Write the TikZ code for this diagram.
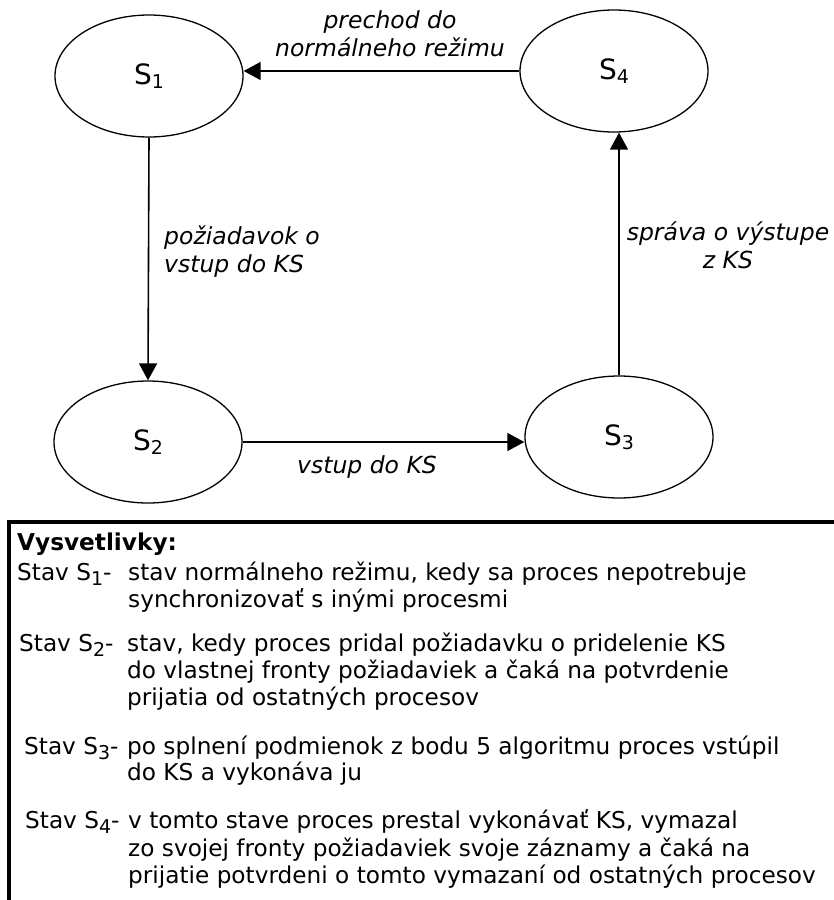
\documentclass[tikz,border=0pt]{standalone}
\usepackage{fontspec}
\setmainfont{DejaVu Sans}
\usetikzlibrary{arrows.meta,shapes.geometric}
% lowered index digit as used after "S": size, drop, digit
\newcommand\lowsub[3]{\raisebox{-#2}{\fontsize{#1}{#1}\selectfont #3}}
\begin{document}
\begin{tikzpicture}[x=1pt,y=-1pt,
  state/.style={draw,line width=1.3pt,ellipse,minimum width=188pt,minimum height=122pt,inner sep=0pt,
    font=\fontsize{28}{32}\selectfont},
  trans/.style={line width=1.6pt,-{Triangle[length=17pt,width=18pt]}},
  elabel/.style={font=\fontsize{23.5}{28}\selectfont\itshape,align=center,inner sep=0pt},
  legend/.style={font=\fontsize{23.2}{27}\selectfont,anchor=base west,inner sep=0pt},
  legendbox/.style={line width=4pt}]
\useasboundingbox (0,0) rectangle (834,900);

% states
\node[state] (s1) at (149,76) {S\lowsub{19}{3.5pt}{1}};
\node[state] (s4) at (614,71) {S\lowsub{19}{3.5pt}{4}};
\node[state] (s2) at (148,442) {S\lowsub{19}{3.5pt}{2}};
\node[state] (s3) at (619,437) {S\lowsub{19}{3.5pt}{3}};

% transitions
\draw[trans] (s1.south) -- (s2.north);
\draw[trans] (s2.east) -- (s2.east -| s3.west);
\draw[trans] (s3.north) -- (s4.south -| s3.north);
\draw[trans] (s4.west) -- (s4.west -| s1.east);

% transition labels
\node[elabel] (l41) at (390,34) {prechod do\\normálneho režimu};
\node[elabel,align=left,anchor=west] (l12) at (164,252) {požiadavok o\\vstup do KS};
\node[elabel] (l34) at (728,245) {správa o výstupe\\z KS};
\node[elabel] (l23) at (367,467) {vstup do KS};

% legend frame
\coordinate (fbl) at (9,900);
\coordinate (ftl) at (9,522);
\coordinate (ftr) at (834,522);
\draw[legendbox] (fbl) -- (ftl) -- (ftr);

% legend text
\node[legend] (lh) at (17,550) {\bfseries Vysvetlivky:};
\node[legend] (k1) at (17,580) {Stav S\lowsub{19}{5.5pt}{1}-};
\node[legend] (t1a) at (128,580) {stav normálneho režimu, kedy sa proces nepotrebuje};
\node[legend] (t1b) at (128,607) {synchronizovať s inými procesmi};
\node[legend] (k2) at (19,651) {Stav S\lowsub{19}{5.5pt}{2}-};
\node[legend] (t2a) at (127,651) {stav, kedy proces pridal požiadavku o pridelenie KS};
\node[legend] (t2b) at (127,678) {do vlastnej fronty požiadaviek a čaká na potvrdenie};
\node[legend] (t2c) at (127,705) {prijatia od ostatných procesov};
\node[legend] (k3) at (24,754) {Stav S\lowsub{19}{5.5pt}{3}-};
\node[legend] (t3a) at (127,754) {po splnení podmienok z bodu 5 algoritmu proces vstúpil};
\node[legend] (t3b) at (127,780) {do KS a vykonáva ju};
\node[legend] (k4) at (25,828) {Stav S\lowsub{19}{5.5pt}{4}-};
\node[legend] (t4a) at (128,828) {v tomto stave proces prestal vykonávať KS, vymazal};
\node[legend] (t4b) at (128,856) {zo svojej fronty požiadaviek svoje záznamy a čaká na};
\node[legend] (t4c) at (128,883) {prijatie potvrdeni o tomto vymazaní od ostatných procesov};
\end{tikzpicture}
\end{document}
